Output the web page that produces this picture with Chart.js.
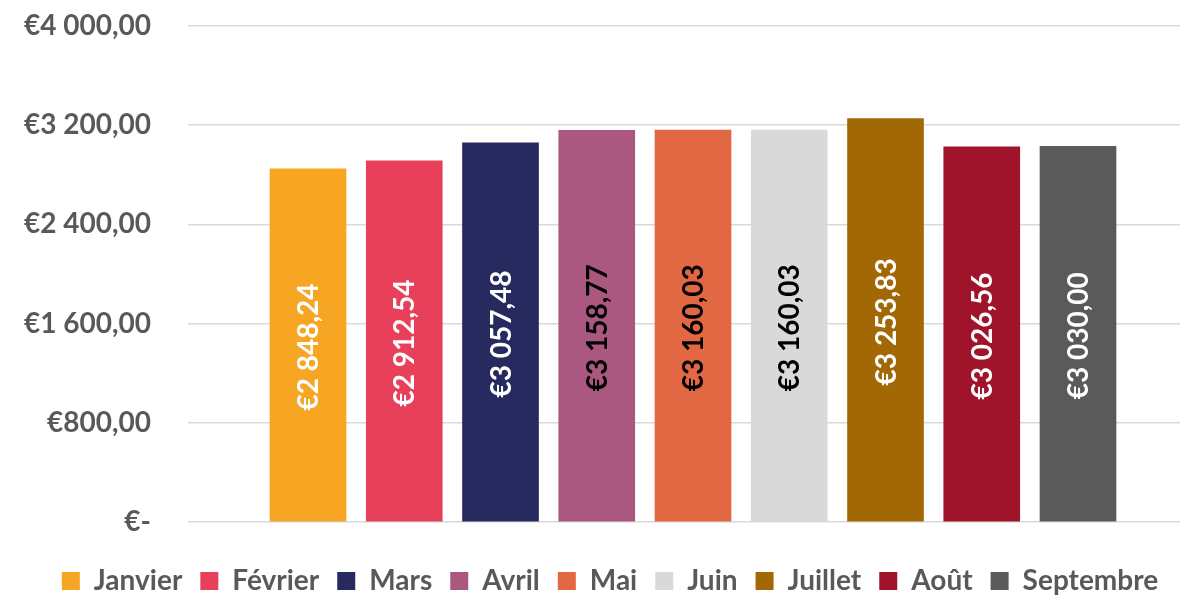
<!DOCTYPE html>
<html>
<head>
<meta charset="utf-8">
<script src="https://cdn.jsdelivr.net/npm/chart.js@4/dist/chart.umd.min.js"></script>
<style>
  html, body { margin: 0; padding: 0; background: #fff; }
  #wrap { width: 1180px; height: 596px; }
</style>
</head>
<body>
<div id="wrap"><canvas id="myChart" width="1180" height="596"></canvas></div>
<script>
const months = ["Janvier", "Février", "Mars", "Avril", "Mai", "Juin", "Juillet", "Août", "Septembre"];
const amounts = [2848.24, 2912.54, 3057.48, 3158.77, 3160.03, 3160.03, 3253.83, 3026.56, 3030.00];
const yTicks = [0, 800, 1600, 2400, 3200, 4000];

const barColors = ["#F6A623", "#E8405A", "#262A5F", "#AA5880", "#E26844", "#D9D9D9", "#A26805", "#A0142B", "#5A5A5A"];
const labelColors = ["#fff", "#fff", "#fff", "#000", "#000", "#000", "#fff", "#fff", "#fff"];
const FONT = "Lato, 'Open Sans', sans-serif";

// "€3 158,77", zero shown as "€-"
function euro(v) {
    if (v === 0) return "€-";
    const parts = v.toFixed(2).split(".");
    const ints = parts[0].replace(/\B(?=(\d{3})+(?!\d))/g, " ");
    return "€" + ints + "," + parts[1];
}

// values written vertically in the middle of each bar
const barValues = {
    id: "barValues",
    afterDatasetsDraw(chart) {
        const ctx = chart.ctx;
        const meta = chart.getDatasetMeta(0);
        ctx.save();
        ctx.font = "bold 28px " + FONT;
        ctx.textAlign = "center";
        ctx.textBaseline = "middle";
        meta.data.forEach((bar, i) => {
            const cy = (bar.y + bar.base) / 2;
            ctx.save();
            ctx.translate(bar.x, cy);
            ctx.rotate(-Math.PI / 2);
            ctx.fillStyle = labelColors[i];
            ctx.fillText(euro(amounts[i]), -2, 1);
            ctx.restore();
        });
        ctx.restore();
    }
};

document.addEventListener("DOMContentLoaded", () => {
    const ctx = document.getElementById("myChart").getContext("2d");

    new Chart(ctx, {
        type: "bar",
        data: {
            datasets: [{
                data: amounts.map((v, i) => ({x: i, y: v})),
                backgroundColor: barColors,
                borderWidth: 0,
                barThickness: 76
            }]
        },
        options: {
            responsive: false,
            animation: false,
            layout: { padding: { top: 26, left: 20, right: -20, bottom: -9 } },
            scales: {
                x: {
                    type: "linear",
                    bounds: "data",
                    offset: false,
                    min: -1.2468,
                    max: 9.0597,
                    grid: { display: false },
                    border: { display: false },
                    ticks: { display: false },
                    afterFit: s => { s.height = 27; }
                },
                y: {
                    min: 0,
                    max: 4000,
                    afterBuildTicks: s => { s.ticks = yTicks.map(v => ({value: v})); },
                    grid: { color: "#D9D9D9", lineWidth: 1.5, drawTicks: true, tickLength: 37, tickColor: "rgba(0,0,0,0)" },
                    border: { display: false },
                    ticks: {
                        padding: 0,
                        color: "#595959",
                        font: { family: FONT, size: 28, weight: "bold" },
                        callback: v => euro(v)
                    },
                    afterFit: s => { s.width = 168; }
                }
            },
            plugins: {
                legend: {
                    position: "bottom",
                    labels: {
                        boxWidth: 18,
                        boxHeight: 18,
                        padding: 18,
                        color: "#595959",
                        font: { family: FONT, size: 28, weight: "bold" },
                        generateLabels: () => months.map((m, i) => ({
                            text: m,
                            fillStyle: barColors[i],
                            strokeStyle: barColors[i],
                            lineWidth: 0,
                            fontColor: "#595959",
                            hidden: false,
                            index: i,
                            datasetIndex: 0
                        }))
                    }
                },
                tooltip: { enabled: false }
            }
        },
        plugins: [barValues]
    });
});
</script>
</body>
</html>
